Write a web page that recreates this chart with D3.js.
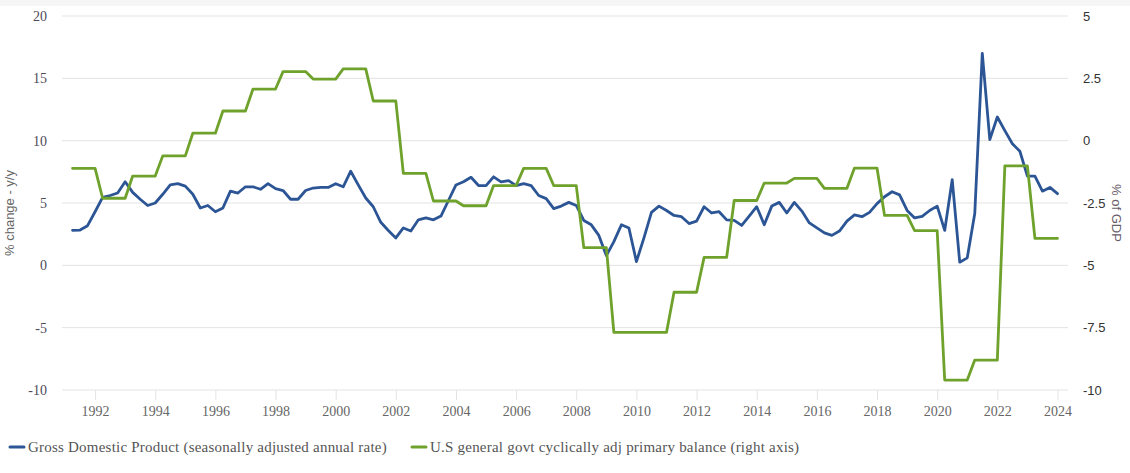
<!DOCTYPE html>
<html>
<head>
<meta charset="utf-8">
<script src="https://cdn.jsdelivr.net/npm/d3@7"></script>
<style>
  html, body { margin: 0; padding: 0; background: #ffffff; }
  svg { display: block; }
</style>
</head>
<body>
<svg id="chart" width="1130" height="473"></svg>
<script>
// ---- Data ----
const startYear = 1991;           // first quarter: 1991 Q1
const gdpYoY = [
  2.81, 2.83, 3.18, 4.3, 5.45, 5.6, 5.8, 6.7, 5.85, 5.3, 4.8, 5.0,
  5.7, 6.45, 6.55, 6.35, 5.7, 4.6, 4.8, 4.3, 4.6, 5.95, 5.8, 6.3,
  6.3, 6.1, 6.55, 6.15, 6.0, 5.3, 5.3, 6.0, 6.2, 6.25, 6.25, 6.55,
  6.3, 7.55, 6.45, 5.4, 4.7, 3.45, 2.8, 2.2, 3.0, 2.75, 3.65, 3.8,
  3.65, 3.95, 5.2, 6.45, 6.7, 7.06, 6.4, 6.4, 7.1, 6.7, 6.8, 6.4,
  6.55, 6.4, 5.6, 5.35, 4.55, 4.75, 5.05, 4.8, 3.6, 3.25, 2.4, 0.78,
  1.9, 3.25, 3.0, 0.3, 2.2, 4.25, 4.75, 4.4, 4.0, 3.9, 3.35, 3.55,
  4.7, 4.2, 4.3, 3.65, 3.6, 3.2, 3.95, 4.7, 3.25, 4.75, 5.05, 4.2,
  5.05, 4.35, 3.4, 3.0, 2.6, 2.4, 2.75, 3.55, 4.05, 3.9, 4.25, 4.95,
  5.5, 5.9, 5.65, 4.4, 3.8, 3.93, 4.4, 4.75, 2.8, 6.87, 0.25, 0.6,
  4.15, 17.0, 10.08, 11.9, 10.8, 9.75, 9.15, 7.15, 7.15, 5.95, 6.25, 5.75
];
// annual values 1991..2023 (repeated for each quarter of the year)
const balanceYears = d3.range(1991, 2024);
const primaryBalance = [
  -1.11, -2.31, -1.42, -0.61, 0.30, 1.19, 2.07, 2.77, 2.47, 2.88, 1.59,
  -1.31, -2.42, -2.61, -1.8, -1.11, -1.8, -4.29, -7.69, -7.69, -6.08,
  -4.68, -2.4, -1.7, -1.51, -1.91, -1.1, -3.0, -3.61, -9.6, -8.8, -1.01, -3.92
];
const leftTicks = [-10, -5, 0, 5, 10, 15, 20];
const rightTicks = [-10, -7.5, -5, -2.5, 0, 2.5, 5];
const xTicks = d3.range(1992, 2025, 2);
const seriesNames = [
  "Gross Domestic Product (seasonally adjusted annual rate)",
  "U.S general govt cyclically adj primary balance (right axis)"
];
const leftTitle = "% change - y/y";
const rightTitle = "% of GDP";

// quarter-end time positions
const quarterTime = gdpYoY.map((_, i) => startYear + 0.25 + 0.25 * i);
const gdpData = gdpYoY.map((v, i) => ({ t: quarterTime[i], v }));
const balData = quarterTime.map((t, i) => ({
  t, v: primaryBalance[balanceYears.indexOf(startYear + Math.floor(i / 4))]
}));

// ---- Layout ----
const svg = d3.select("#chart");
const W = 1130, H = 473;
const plot = { left: 62, right: 1068, top: 16, bottom: 390 };
const colors = { gdp: "#2c5595", bal: "#6fa22c" };
const fmt = d => String(d);   // plain hyphen minus like the reference

svg.append("rect").attr("x", 0).attr("y", 0).attr("width", W).attr("height", 6).attr("fill", "#f6f6f6");

const x = d3.scaleLinear().domain([1990.9, 2024.35]).range([plot.left, plot.right]);
const yL = d3.scaleLinear().domain([-10, 20]).range([plot.bottom, plot.top]);
const yR = d3.scaleLinear().domain([-10, 5]).range([plot.bottom, plot.top]);

// gridlines
svg.append("g").selectAll("line").data(leftTicks).join("line")
  .attr("x1", plot.left).attr("x2", plot.right)
  .attr("y1", d => yL(d)).attr("y2", d => yL(d))
  .attr("stroke", "#e3e3e3").attr("stroke-width", 1);

// x axis
const xAxis = d3.axisBottom(x).tickValues(xTicks).tickFormat(d3.format("d")).tickSize(10).tickPadding(6);
const gx = svg.append("g").attr("transform", `translate(0,${plot.bottom})`).call(xAxis);
gx.select(".domain").remove();
gx.selectAll(".tick line").attr("stroke", "#e3e3e3");
gx.selectAll(".tick text").attr("fill", "#666").style("font-family", "'Liberation Serif', serif").style("font-size", "14px");

// left axis
const yAxisL = d3.axisLeft(yL).tickValues(leftTicks).tickSize(0).tickPadding(15).tickFormat(fmt);
const gyl = svg.append("g").attr("transform", `translate(${plot.left},0)`).call(yAxisL);
gyl.select(".domain").remove();
gyl.selectAll(".tick text").attr("fill", "#4f4a57").style("font-family", "'Liberation Serif', serif").style("font-size", "14px");

// right axis
const yAxisR = d3.axisRight(yR).tickValues(rightTicks).tickSize(0).tickPadding(15).tickFormat(fmt);
const gyr = svg.append("g").attr("transform", `translate(${plot.right},0)`).call(yAxisR);
gyr.select(".domain").remove();
gyr.selectAll(".tick text").attr("fill", "#333").style("font-family", "'Liberation Sans', Arial, sans-serif").style("font-size", "13px");

// axis titles
svg.append("text")
  .attr("transform", `translate(14,${(plot.top + plot.bottom) / 2 + 10}) rotate(-90)`)
  .attr("text-anchor", "middle").attr("fill", "#666")
  .style("font-family", "'Liberation Sans', Arial, sans-serif").style("font-size", "13px")
  .text(leftTitle);
svg.append("text")
  .attr("transform", `translate(1112,${(plot.top + plot.bottom) / 2 + 10}) rotate(90)`)
  .attr("text-anchor", "middle").attr("fill", "#6a5d6a")
  .style("font-family", "'Liberation Sans', Arial, sans-serif").style("font-size", "13px")
  .text(rightTitle);

// lines
const lineL = d3.line().x(d => x(d.t)).y(d => yL(d.v));
const lineR = d3.line().x(d => x(d.t)).y(d => yR(d.v));
svg.append("path").datum(gdpData).attr("d", lineL)
  .attr("fill", "none").attr("stroke", colors.gdp).attr("stroke-width", 2.8)
  .attr("stroke-linejoin", "round").attr("stroke-linecap", "round");
svg.append("path").datum(balData).attr("d", lineR)
  .attr("fill", "none").attr("stroke", colors.bal).attr("stroke-width", 2.8)
  .attr("stroke-linejoin", "round").attr("stroke-linecap", "round");

// legend
const legendItems = [
  { name: seriesNames[0], color: colors.gdp, x: 10 },
  { name: seriesNames[1], color: colors.bal, x: 412 }
];
const lg = svg.append("g").selectAll("g").data(legendItems).join("g")
  .attr("transform", d => `translate(${d.x},447)`);
lg.append("line").attr("x1", 0).attr("x2", 14).attr("y1", 0).attr("y2", 0)
  .attr("stroke", d => d.color).attr("stroke-width", 3).attr("stroke-linecap", "round");
lg.append("text").attr("x", 18).attr("y", 5).attr("fill", "#555")
  .style("font-family", "'Liberation Serif', serif").style("font-size", "15px")
  .style("letter-spacing", "0.22px")
  .text(d => d.name);
</script>
</body>
</html>
